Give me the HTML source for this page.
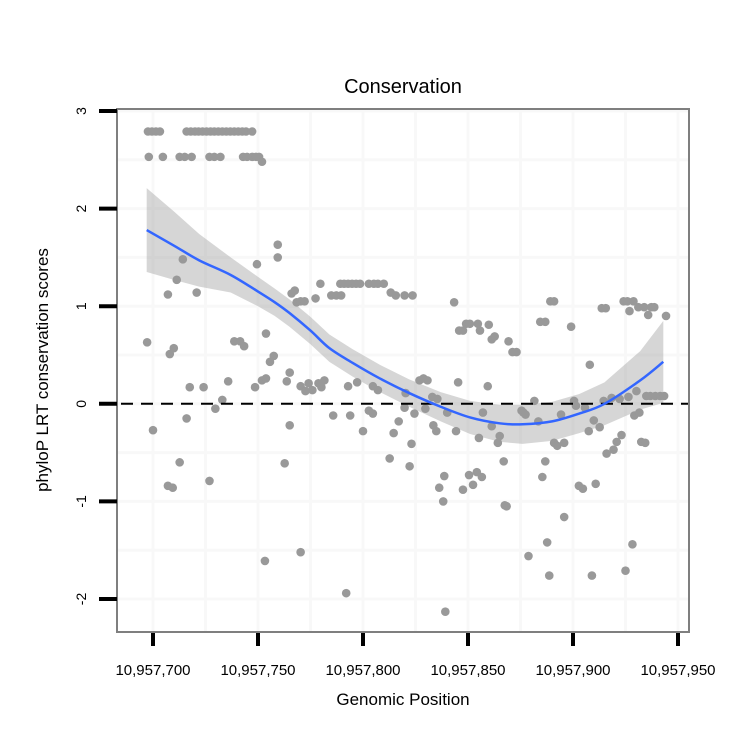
<!DOCTYPE html>
<html><head><meta charset="utf-8"><style>
html,body{margin:0;padding:0;background:#fff;}
svg{display:block;font-family:"Liberation Sans",Arial,sans-serif;}
</style></head><body>
<svg id="chart" width="750" height="750" xmlns="http://www.w3.org/2000/svg">
<text x="403" y="93" font-size="20" text-anchor="middle">Conservation</text>
<text x="403" y="705" font-size="17" text-anchor="middle">Genomic Position</text>
<text transform="translate(48,370) rotate(-90)" font-size="17" text-anchor="middle">phyloP LRT conservation scores</text>
<g id="grid"></g><g id="band"></g><g id="pts"></g><g id="lines"></g><g id="axes"></g>
</svg>
<script>
const xTicks=[700,750,800,850,900,950];
const xTickLabels=["10,957,700","10,957,750","10,957,800","10,957,850","10,957,900","10,957,950"];
const yTicks=[-2,-1,0,1,2,3];
const yTickLabels=["-2","-1","0","1","2","3"];
const pointPos=[697.6,699.5,701.4,703.3,716,718,720,721.7,723.6,725.5,727.4,729.2,731.1,733,734.9,736.8,738.7,740.6,742.5,744.3,747.2,
698,704.7,712.7,715.1,718.4,726.9,729.2,732.1,742.9,744.8,747.2,749.1,750.5,751.9,
697.2,700,707.1,708,709.9,711.3,714.2,716,707.1,709.4,712.7,717.5,720.8,724.1,726.9,729.7,733,735.8,738.7,741.5,743.4,748.6,749.5,751.9,753.8,753.8,755.7,757.5,753.3,759.4,759.4,762.7,763.7,765.1,765.1,766,767.5,768.4,770.3,772.2,770.3,772.6,770.3,774.1,775.9,777.4,778.8,780.2,779.7,781.6,785.8,784.9,787.3,789.6,789.2,791,792.9,794.8,796.7,798.6,792.9,793.9,797.2,800,802.8,805.2,807.1,809.9,804.7,807.1,802.8,804.7,792,
812.7,813.2,815.6,814.6,817,819.8,823.6,819.8,820.3,822.2,823.1,824.5,826.9,828.8,829.7,830.7,833,834.9,833.5,838.7,836.3,835.4,838.2,839.2,840.1,844.3,843.4,845.8,847.6,847.6,845.3,849.1,850.9,850.5,852.4,854.7,855.7,854.2,856.6,855.2,859.9,857.1,861.3,859.4,861.3,862.7,864.2,865.1,867,867.5,868.4,869.3,871.2,873.1,875.5,876.4,877.4,878.8,881.6,883.5,884.4,886.8,885.4,886.8,887.7,888.7,889.2,891,891,892.5,894.3,895.8,895.8,899.1,900.5,901.4,902.8,904.7,905.7,907.5,908,909,909.9,910.8,912.7,913.7,915.6,914.6,916,919.3,918.4,920.8,923.1,922.2,924.1,925.9,928.8,925,926.4,926.9,928.3,929.2,930.2,931.6,931.1,933.9,937.3,938.7,932.5,934.4,935.8,934.9,936.8,939.2,941.5,944.3,943.4];
const pointScore=[2.79,2.79,2.79,2.79,2.79,2.79,2.79,2.79,2.79,2.79,2.79,2.79,2.79,2.79,2.79,2.79,2.79,2.79,2.79,2.79,2.79,
2.53,2.53,2.53,2.53,2.53,2.53,2.53,2.53,2.53,2.53,2.53,2.53,2.53,2.48,
0.63,-0.27,1.12,0.51,0.57,1.27,1.48,-0.15,-0.84,-0.86,-0.6,0.17,1.14,0.17,-0.79,-0.05,0.04,0.23,0.64,0.64,0.59,0.17,1.43,0.24,0.26,0.72,0.43,0.49,-1.61,1.63,1.5,-0.61,0.23,0.32,-0.22,1.13,1.16,1.04,1.05,1.05,0.18,0.13,-1.52,0.21,0.14,1.08,0.21,0.17,1.23,0.24,-0.12,1.11,1.11,1.11,1.23,1.23,1.23,1.23,1.23,1.23,0.18,-0.12,0.22,-0.28,1.23,1.23,1.23,1.23,0.18,0.14,-0.07,-0.1,-1.94,
-0.56,1.14,1.11,-0.3,-0.18,1.11,1.11,-0.04,0.11,-0.64,-0.41,-0.1,0.24,0.26,-0.05,0.24,0.07,-0.28,-0.22,-0.74,-0.86,0.05,-1.0,-2.13,-0.09,-0.28,1.04,0.75,0.75,-0.88,0.22,0.82,0.82,-0.73,-0.83,0.82,0.75,-0.7,-0.75,-0.35,0.81,-0.09,-0.23,0.18,0.66,0.69,-0.4,-0.33,-0.59,-1.04,-1.05,0.64,0.53,0.53,-0.07,-0.09,-0.11,-1.56,0.03,-0.18,0.84,0.84,-0.75,-0.59,-1.42,-1.76,1.05,1.05,-0.4,-0.43,-0.11,-0.4,-1.16,0.79,0.03,-0.02,-0.84,-0.87,-0.04,-0.28,0.4,-1.76,-0.17,-0.82,-0.24,0.98,0.98,0.03,-0.51,-0.47,0.06,-0.39,-0.32,0.05,1.05,1.05,1.05,-1.71,0.07,0.95,-1.44,-0.12,0.13,-0.09,0.99,0.99,0.99,0.99,-0.39,-0.4,0.91,0.08,0.08,0.08,0.08,0.9,0.08];
const fitPos=[697,710,722,737,750,758,765,775,784,795,808,822,837,851,865,876,890,903,915,932,943];
const fitScore=[1.78,1.62,1.47,1.32,1.15,1.04,0.93,0.75,0.57,0.42,0.26,0.11,-0.03,-0.14,-0.2,-0.21,-0.18,-0.1,0.0,0.24,0.43];
const fitHalfWidth=[0.43,0.35,0.27,0.18,0.15,0.14,0.14,0.14,0.14,0.14,0.14,0.14,0.15,0.17,0.19,0.2,0.2,0.2,0.22,0.3,0.42];

const NS="http://www.w3.org/2000/svg";
const L=117,R=689,T=109,B=632;
function xs(v){return 153+(v-700)*2.1;}
function ys(v){return 403.8-v*97.6;}
function mk(tag,attrs,parent){const e=document.createElementNS(NS,tag);for(const k in attrs)e.setAttribute(k,attrs[k]);document.getElementById(parent).appendChild(e);return e;}

for(let v=700;v<=950;v+=25){const g=mk('line',{x1:xs(v),x2:xs(v),y1:T,y2:B,stroke:'#f8f8f8','stroke-width':3},'grid');

}
for(let v=-2;v<=3;v+=0.5){const g=mk('line',{x1:L,x2:R,y1:ys(v),y2:ys(v),stroke:'#f8f8f8','stroke-width':3},'grid');

}

let up=fitPos.map((p,i)=>xs(p)+','+ys(fitScore[i]+fitHalfWidth[i]));
let dn=fitPos.map((p,i)=>xs(p)+','+ys(fitScore[i]-fitHalfWidth[i])).reverse();
const band=mk('polygon',{points:up.concat(dn).join(' '),fill:'#999','fill-opacity':0.4},'band');



pointPos.forEach((p,i)=>{const c=mk('circle',{cx:xs(p),cy:ys(pointScore[i]),r:4.3,fill:'#999'},'pts');

});

const z=mk('line',{x1:L,x2:R,y1:ys(0),y2:ys(0),stroke:'#000','stroke-width':2,'stroke-dasharray':'12,8','stroke-dashoffset':'-4'},'lines');



const P=fitPos.map((p,i)=>[xs(p),ys(fitScore[i])]);
let d='M'+P[0][0]+','+P[0][1];
for(let i=0;i<P.length-1;i++){const p0=P[Math.max(0,i-1)],p1=P[i],p2=P[i+1],p3=P[Math.min(P.length-1,i+2)];
d+=' C'+(p1[0]+(p2[0]-p0[0])/6)+','+(p1[1]+(p2[1]-p0[1])/6)+' '+(p2[0]-(p3[0]-p1[0])/6)+','+(p2[1]-(p3[1]-p1[1])/6)+' '+p2[0]+','+p2[1];}
const fl=mk('path',{d:d,fill:'none',stroke:'#3366ff','stroke-width':2.5},'lines');



const fr=mk('rect',{x:L,y:T,width:R-L,height:B-T,fill:'none',stroke:'#7f7f7f','stroke-width':2},'axes');



xTicks.forEach((v,i)=>{const t=mk('line',{x1:xs(v),x2:xs(v),y1:B+1,y2:B+14,stroke:'#000','stroke-width':4},'axes');


const tx=mk('text',{x:xs(v),y:675,'font-size':15,'text-anchor':'middle'},'axes');tx.textContent=xTickLabels[i];

});
yTicks.forEach((v,i)=>{const t=mk('line',{x1:99,x2:L,y1:ys(v),y2:ys(v),stroke:'#000','stroke-width':4},'axes');


const tx=mk('text',{transform:'translate(86,'+ys(v)+') rotate(-90)','font-size':14,'text-anchor':'middle'},'axes');tx.textContent=yTickLabels[i];

});
</script>
</body></html>
